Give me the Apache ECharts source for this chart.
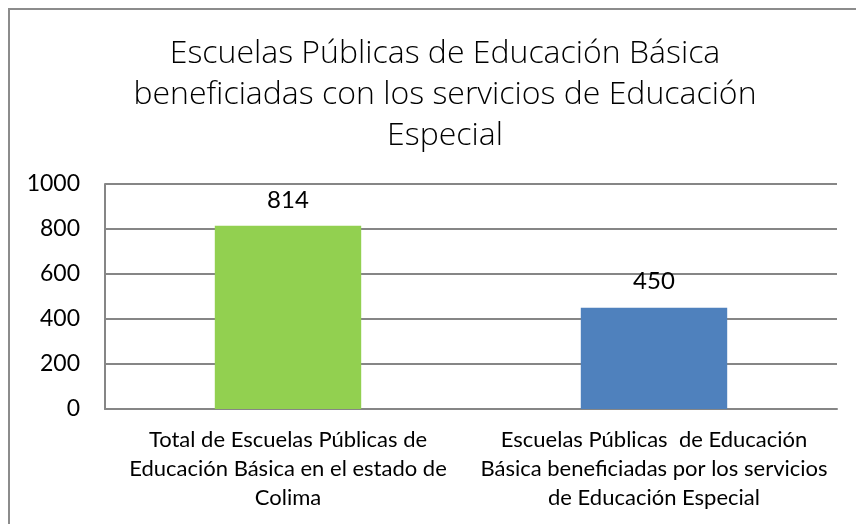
<!DOCTYPE html>
<html>
<head>
<meta charset="utf-8">
<script src="https://cdn.jsdelivr.net/npm/echarts@6/dist/echarts.min.js"></script>
<style>
    html, body { margin: 0; padding: 0; background: #fff; }
    #chart { width: 856px; height: 524px; }
</style>
</head>
<body>
<div id="chart"></div>
<script>
// datos de la gráfica
var categorias = [
    'Total de Escuelas Públicas de\nEducación Básica en el estado de\nColima',
    'Escuelas Públicas  de Educación\nBásica beneficiadas por los servicios\nde Educación Especial'
];
var valores = [814, 450];
var colores = ['#92D050', '#4F81BD'];

var chart = echarts.init(document.getElementById('chart'));
chart.setOption({
    backgroundColor: '#fff',
    title: {
        text: 'Escuelas Públicas de Educación Básica\nbeneficiadas con los servicios de Educación\nEspecial',
        left: 440,
        top: 28,
        textAlign: 'center',
        textStyle: {
            fontFamily: 'Open Sans',
            fontWeight: 300,
            fontSize: 32,
            lineHeight: 41,
            color: '#000'
        }
    },
    graphic: [
        {
            type: 'polyline',
            shape: { points: [[9, 524], [9, 9], [856, 9]] },
            style: { stroke: '#8c8c8c', lineWidth: 2, fill: null }
        }
    ],
    grid: {
        left: 105,
        right: 19,
        top: 184,
        bottom: 115
    },
    xAxis: {
        type: 'category',
        data: categorias,
        axisTick: { show: false },
        axisLine: { lineStyle: { color: '#868686', width: 2 } },
        axisLabel: {
            color: '#000',
            fontFamily: 'Lato',
            fontSize: 22,
            lineHeight: 29,
            margin: 16,
            interval: 0
        }
    },
    yAxis: {
        type: 'value',
        min: 0,
        max: 1000,
        interval: 200,
        axisLine: { show: true, lineStyle: { color: '#868686', width: 2 } },
        axisTick: { show: false },
        splitLine: { lineStyle: { color: '#868686', width: 2 } },
        axisLabel: {
            color: '#000',
            fontFamily: 'Lato',
            fontSize: 23,
            margin: 25,
            formatter: function (v) { return String(v); }
        }
    },
    series: [
        {
            type: 'bar',
            barWidth: '40%',
            data: valores.map(function (v, i) {
                return { value: v, itemStyle: { color: colores[i] } };
            }),
            label: {
                show: true,
                position: 'top',
                distance: 14,
                color: '#000',
                fontFamily: 'Lato',
                fontSize: 24
            }
        }
    ]
});
</script>
</body>
</html>
